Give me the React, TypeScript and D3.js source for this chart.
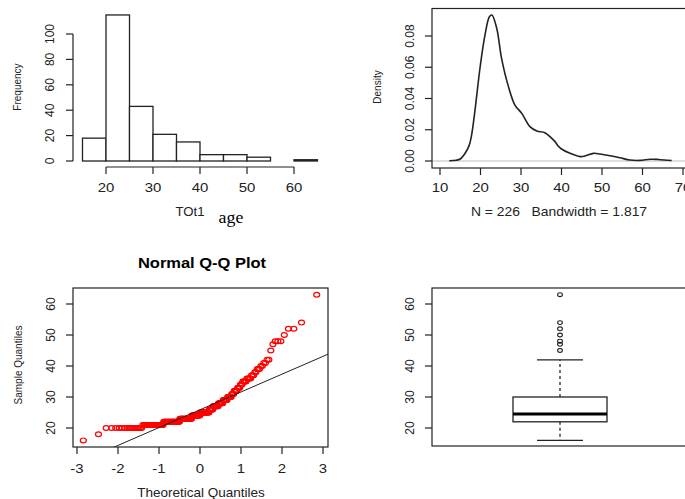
import React from "react";
import * as d3 from "d3";

// ---------- data ----------
const histBreaks = [15, 20, 25, 30, 35, 40, 45, 50, 55, 60, 65];
const histCounts = [18, 115, 43, 21, 15, 5, 5, 3, 0, 1];
const histXTicks = [20, 30, 40, 50, 60];
const histYTicks = [0, 20, 40, 60, 80, 100];

const densX = [12.3, 14, 15, 16.2, 17.2, 17.8, 18.6, 19.9, 21.1, 22.2, 22.8, 24.0, 25.2, 26.9, 28.5, 30.2, 32.2, 33.9, 35.9, 37.6, 38.4, 39.2, 40.0, 42.1, 44.6, 45.8, 47.9, 49.5, 52.0, 54.4, 56.9, 59.4, 61.9, 63.9, 67.2];
const densY = [0.0002, 0.0005, 0.0013, 0.005, 0.010, 0.0166, 0.0316, 0.060, 0.0806, 0.0923, 0.0934, 0.085, 0.0657, 0.0476, 0.0358, 0.0305, 0.022, 0.0192, 0.0181, 0.0145, 0.0124, 0.0095, 0.0077, 0.0049, 0.0028, 0.0032, 0.0049, 0.0045, 0.0034, 0.0021, 0.0006, 0.0004, 0.0011, 0.001, 0.0003];
const densXTicks = [10, 20, 30, 40, 50, 60, 70];
const densYTicks = [0, 0.02, 0.04, 0.06, 0.08];

const ageValues = [16, 18, 20, 21, 22, 23, 24, 25, 26, 27, 28, 29, 30, 31, 32, 33, 34, 35, 36, 37, 38, 39, 40, 41, 42, 45, 47, 48, 50, 52, 54, 63];
const ageCounts = [1, 1, 16, 24, 28, 25, 18, 20, 8, 11, 9, 8, 7, 4, 5, 4, 3, 5, 5, 3, 2, 3, 2, 2, 2, 1, 1, 3, 1, 2, 1, 1];
const qqXTicks = [-3, -2, -1, 0, 1, 2, 3];
const ageYTicks = [20, 30, 40, 50, 60];

const boxMin = 16;
const boxQ1 = 22;
const boxMedian = 24.5;
const boxQ3 = 30;
const boxWhiskerHigh = 42;
const boxOutliers = [45, 47, 48, 50, 52, 54, 63];

// ---------- helpers ----------
function qnorm(p: number): number {
  const a = [-3.969683028665376e1, 2.209460984245205e2, -2.759285104469687e2, 1.38357751867269e2, -3.066479806614716e1, 2.506628277459239];
  const b = [-5.447609879822406e1, 1.615858368580409e2, -1.556989798598866e2, 6.680131188771972e1, -1.328068155288572e1];
  const c = [-7.784894002430293e-3, -3.223964580411365e-1, -2.400758277161838, -2.549732539343734, 4.374664141464968, 2.938163982698783];
  const d = [7.784695709041462e-3, 3.224671290700398e-1, 2.445134137142996, 3.754408661907416];
  const pl = 0.02425;
  if (p < pl) {
    const q = Math.sqrt(-2 * Math.log(p));
    return (((((c[0] * q + c[1]) * q + c[2]) * q + c[3]) * q + c[4]) * q + c[5]) / ((((d[0] * q + d[1]) * q + d[2]) * q + d[3]) * q + 1);
  }
  if (p > 1 - pl) {
    const q = Math.sqrt(-2 * Math.log(1 - p));
    return -(((((c[0] * q + c[1]) * q + c[2]) * q + c[3]) * q + c[4]) * q + c[5]) / ((((d[0] * q + d[1]) * q + d[2]) * q + d[3]) * q + 1);
  }
  const q = p - 0.5;
  const r = q * q;
  return (((((a[0] * r + a[1]) * r + a[2]) * r + a[3]) * r + a[4]) * r + a[5]) * q / (((((b[0] * r + b[1]) * r + b[2]) * r + b[3]) * r + b[4]) * r + 1);
}

const FONT = "'Liberation Sans', Arial, Helvetica, sans-serif";
const INK = "#222";
const TICK = 7;

function RotLabel({ x, y, text, size = 12 }: { x: number; y: number; text: string; size?: number }) {
  return (
    <text x={x} y={y} transform={`rotate(-90, ${x}, ${y})`} textAnchor="middle" fontSize={size} fontFamily={FONT} fill={INK}>
      {text}
    </text>
  );
}

function HText({ x, y, text, size = 13, sx = 1.15, weight = "normal", family = FONT, fill = INK }:
  { x: number; y: number; text: string; size?: number; sx?: number; weight?: string; family?: string; fill?: string }) {
  return (
    <text transform={`translate(${x},${y}) scale(${sx},1)`} textAnchor="middle" fontSize={size} fontWeight={weight}
      fontFamily={family} fill={fill} style={{ whiteSpace: "pre" }}>
      {text}
    </text>
  );
}

export default function App() {
  // ---- histogram ----
  const hx = d3.scaleLinear().domain([20, 60]).range([106, 294]);
  const hy = d3.scaleLinear().domain([0, 100]).range([161, 34]);

  // ---- density ----
  const dx = d3.scaleLinear().domain([10, 70]).range([440, 683]);
  const dy = d3.scaleLinear().domain([0, 0.08]).range([161, 36]);
  const densPts = densX.map((x, i) => [x, densY[i]] as [number, number]);
  const densLine = d3.line<[number, number]>().x((p) => dx(p[0])).y((p) => dy(p[1])).curve(d3.curveCatmullRom);

  // ---- qq ----
  const sorted: number[] = [];
  ageValues.forEach((v, i) => {
    for (let k = 0; k < ageCounts[i]; k++) sorted.push(v);
  });
  const n = sorted.length;
  const qx = d3.scaleLinear().domain([0, 3]).range([200, 323]);
  const qy = d3.scaleLinear().domain([20, 60]).range([428, 304]);
  const qqPts = sorted.map((v, i) => [qnorm((i + 1 - 0.5) / n), v] as [number, number]);
  const q1 = d3.quantile(sorted, 0.25) as number;
  const q3 = d3.quantile(sorted, 0.75) as number;
  const z1 = qnorm(0.25);
  const z3 = qnorm(0.75);
  const slope = (q3 - q1) / (z3 - z1);
  const inter = q1 - slope * z1;
  const qBox = { l: 73, t: 288, r: 328, b: 447 };

  // ---- boxplot ----
  const by = qy;
  const bc = 560;
  const bHalf = 47;
  const capHalf = 23;
  const bBox = { l: 432, t: 288, r: 700, b: 446 };

  return (
    <svg width={685} height={499} style={{ position: "absolute", left: 0, top: 0, background: "#fff" }}>
      <rect x={0} y={0} width={685} height={499} fill="#fff" />

      {/* ===== Histogram ===== */}
      <g>
        {histCounts.map((c, i) => {
          const x0 = hx(histBreaks[i]);
          const x1 = hx(histBreaks[i + 1]);
          return <rect key={i} x={x0} y={hy(c)} width={x1 - x0} height={hy(0) - hy(c)} fill="#fff" stroke={INK} strokeWidth={1.3} />;
        })}
        <line x1={73} x2={73} y1={hy(0)} y2={hy(100)} stroke={INK} strokeWidth={1.2} />
        {histYTicks.map((t) => (
          <g key={t}>
            <line x1={73 - TICK} x2={73} y1={hy(t)} y2={hy(t)} stroke={INK} strokeWidth={1.2} />
            <RotLabel x={54} y={hy(t)} text={String(t)} />
          </g>
        ))}
        <line x1={hx(20)} x2={hx(60)} y1={167} y2={167} stroke={INK} strokeWidth={1.2} />
        {histXTicks.map((t) => (
          <g key={t}>
            <line x1={hx(t)} x2={hx(t)} y1={167} y2={167 + TICK} stroke={INK} strokeWidth={1.2} />
            <HText x={hx(t)} y={192} text={String(t)} />
          </g>
        ))}
        <RotLabel x={21} y={87} text="Frequency" size={10} />
        <HText x={190} y={216} text="TOt1" size={12} sx={1.1} />
        <HText x={231} y={223} text="age" size={17} sx={1.05} family="'Liberation Serif', 'Times New Roman', serif" fill="#000" />
      </g>

      {/* ===== Density ===== */}
      <g>
        <line x1={432} x2={685} y1={dy(0)} y2={dy(0)} stroke="#bbb" strokeWidth={1} />
        <path d={densLine(densPts) || ""} fill="none" stroke={INK} strokeWidth={1.6} />
        <rect x={432} y={8.5} width={300} height={168 - 8.5} fill="none" stroke={INK} strokeWidth={1.2} />
        {densYTicks.map((t) => (
          <g key={t}>
            <line x1={432 - TICK} x2={432} y1={dy(t)} y2={dy(t)} stroke={INK} strokeWidth={1.2} />
            <RotLabel x={414} y={dy(t)} text={t.toFixed(2)} />
          </g>
        ))}
        {densXTicks.map((t) => (
          <g key={t}>
            <line x1={dx(t)} x2={dx(t)} y1={168} y2={168 + TICK} stroke={INK} strokeWidth={1.2} />
            <HText x={dx(t)} y={192} text={String(t)} />
          </g>
        ))}
        <RotLabel x={381} y={87} text="Density" size={10} />
        <HText x={559} y={216} text={"N = 226   Bandwidth = 1.817"} size={13} sx={1.07} />
      </g>

      {/* ===== Normal Q-Q ===== */}
      <g>
        <defs>
          <clipPath id="qqclip">
            <rect x={qBox.l} y={qBox.t} width={qBox.r - qBox.l} height={qBox.b - qBox.t} />
          </clipPath>
        </defs>
        <HText x={202} y={268} text="Normal Q-Q Plot" size={15} sx={1.1} weight="bold" fill="#000" />
        {qqPts.map((p, i) => (
          <ellipse key={i} cx={qx(p[0])} cy={qy(p[1])} rx={3} ry={2.4} fill="none" stroke="#ff0000" strokeWidth={1.2} />
        ))}
        <line
          x1={qx(-4)} y1={qy(inter + slope * -4)} x2={qx(4)} y2={qy(inter + slope * 4)}
          stroke={INK} strokeWidth={1} clipPath="url(#qqclip)"
        />
        <rect x={qBox.l} y={qBox.t} width={qBox.r - qBox.l} height={qBox.b - qBox.t} fill="none" stroke={INK} strokeWidth={1.2} />
        {ageYTicks.map((t) => (
          <g key={t}>
            <line x1={qBox.l - TICK} x2={qBox.l} y1={qy(t)} y2={qy(t)} stroke={INK} strokeWidth={1.2} />
            <RotLabel x={55} y={qy(t)} text={String(t)} />
          </g>
        ))}
        {qqXTicks.map((t) => (
          <g key={t}>
            <line x1={qx(t)} x2={qx(t)} y1={qBox.b} y2={qBox.b + TICK} stroke={INK} strokeWidth={1.2} />
            <HText x={qx(t)} y={473} text={String(t)} />
          </g>
        ))}
        <RotLabel x={22} y={365} text="Sample Quantiles" size={10} />
        <HText x={201} y={497} text="Theoretical Quantiles" size={13} sx={1.04} />
      </g>

      {/* ===== Boxplot ===== */}
      <g>
        <rect x={bBox.l} y={bBox.t} width={bBox.r - bBox.l} height={bBox.b - bBox.t} fill="none" stroke={INK} strokeWidth={1.2} />
        <line x1={bc} x2={bc} y1={by(boxQ3)} y2={by(boxWhiskerHigh)} stroke={INK} strokeWidth={1.3} strokeDasharray="3,3" />
        <line x1={bc} x2={bc} y1={by(boxQ1)} y2={by(boxMin)} stroke={INK} strokeWidth={1.3} strokeDasharray="3,3" />
        <line x1={bc - capHalf} x2={bc + capHalf} y1={by(boxWhiskerHigh)} y2={by(boxWhiskerHigh)} stroke={INK} strokeWidth={1.2} />
        <line x1={bc - capHalf} x2={bc + capHalf} y1={by(boxMin)} y2={by(boxMin)} stroke={INK} strokeWidth={1.2} />
        <rect x={bc - bHalf} y={by(boxQ3)} width={bHalf * 2} height={by(boxQ1) - by(boxQ3)} fill="#fff" stroke={INK} strokeWidth={1.3} />
        <line x1={bc - bHalf} x2={bc + bHalf} y1={by(boxMedian)} y2={by(boxMedian)} stroke="#000" strokeWidth={3} />
        {boxOutliers.map((v, i) => (
          <ellipse key={i} cx={bc} cy={by(v)} rx={2.4} ry={1.9} fill="none" stroke={INK} strokeWidth={1.1} />
        ))}
        {ageYTicks.map((t) => (
          <g key={t}>
            <line x1={bBox.l - TICK} x2={bBox.l} y1={by(t)} y2={by(t)} stroke={INK} strokeWidth={1.2} />
            <RotLabel x={414} y={by(t)} text={String(t)} />
          </g>
        ))}
      </g>
    </svg>
  );
}
